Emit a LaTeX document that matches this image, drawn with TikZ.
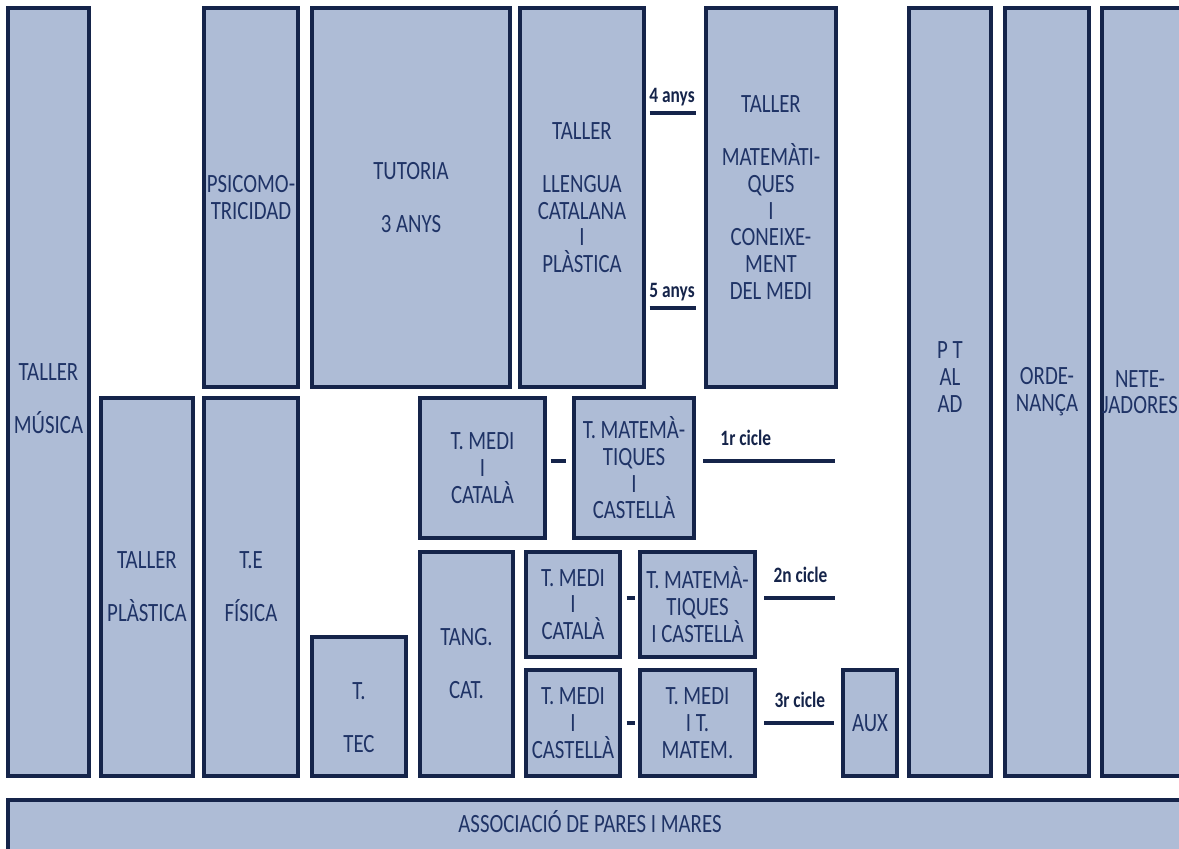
\documentclass[tikz,border=0pt]{standalone}
\usepackage{fontspec}
\setmainfont{Carlito}[FakeStretch=0.79]
\definecolor{roomfill}{HTML}{AEBCD6}
\definecolor{roomline}{HTML}{15244A}
\definecolor{ink}{HTML}{1F3366}

\tikzset{
  room/.style={draw=roomline, fill=roomfill, line width=1.8pt, text=ink,
    align=center, inner sep=0pt, font=\fontsize{15}{15.2}\selectfont},
  roomlabel/.style={text=ink, align=center, inner sep=0pt,
    font=\fontsize{15}{15.2}\selectfont},
  sz/.style 2 args={minimum width=#1*0.02cm, minimum height=#2*0.02cm},
  link/.style={draw=roomline, line width=2pt},
  tag/.style={text=roomline, inner sep=0pt, font=\bfseries\fontsize{12.5}{13}\selectfont}
}

\begin{document}
\begin{tikzpicture}[x=0.02cm, y=-0.02cm]
  \useasboundingbox (0,0) rectangle (1179,848);
  \clip (0,0) rectangle (1179,848);

  % Upper row
  \node[room, sz={81}{768}] (musica) at (48.5,392) {};
  \node[roomlabel] (musica-t) at (48.5,399) {TALLER\\[15pt]MÚSICA};
  \node[room, sz={94}{379}] (psico) at (251,197.5) {PSICOMO-\\TRICIDAD};
  \node[room, sz={198}{379}] (tutoria) at (411,197.5) {TUTORIA\\[15pt]3 ANYS};
  \node[room, sz={124}{379}] (llengua) at (582,197.5)
    {TALLER\\[15pt]LLENGUA\\CATALANA\\I\\PLÀSTICA};
  \node[room, sz={130}{379}] (matem) at (771,197.5)
    {TALLER\\[15pt]MATEMÀTI-\\QUES\\I\\CONEIXE-\\MENT\\DEL MEDI};

  % Lower row
  \node[room, sz={92}{378}] (plastica) at (147,587) {TALLER\\[15pt]PLÀSTICA};
  \node[room, sz={94}{378}] (fisica) at (251,587) {T.E\\[15pt]FÍSICA};
  \node[room, sz={94}{139}] (tec) at (359,706.5) {};
  \node[roomlabel] (tec-t) at (359,718) {T.\\[15pt]TEC};
  \node[room, sz={125}{140}] (medi1) at (482.5,468) {T.\,MEDI\\I\\CATALÀ};
  \node[room, sz={120}{140}] (tmat1) at (634,468) {T.\,MATEMÀ-\\TIQUES\\I\\CASTELLÀ};
  \node[room, sz={93}{224}] (tang) at (466.5,664) {TANG.\\[15pt]CAT.};
  \node[room, sz={94}{105}] (medi2) at (573,604.5) {T.\,MEDI\\I\\CATALÀ};
  \node[room, sz={115}{105}] (tmat2) at (697.5,604.5) {T.\,MATEMÀ-\\TIQUES\\I CASTELLÀ};
  \node[room, sz={94}{106}] (medi3) at (573,723) {T.\,MEDI\\I\\CASTELLÀ};
  \node[room, sz={115}{106}] (tmm3) at (697.5,723) {T.\,MEDI\\I T.\\MATEM.};
  \node[room, sz={54}{106}] (aux) at (870,723) {AUX};

  % Staff columns
  \node[room, sz={82}{768}] (ptalad) at (950,392) {};
  \node[roomlabel] (ptalad-t) at (950,377) {P T\\AL\\AD};
  \node[room, sz={84}{768}] (ordenanca) at (1047,392) {ORDE-\\NANÇA};
  \node[room, sz={83}{768}] (neteja) at (1143.5,392) {};
  \node[roomlabel] (neteja-t) at (1140,392) {NETE-\\JADORES};

  % Parents bar
  \node[room, sz={1187}{52}] (ampa) at (601.5,826) {};
  \node[roomlabel] (ampa-t) at (590,822) {ASSOCIACIÓ DE PARES I MARES};

  % Age and cycle lines
  \coordinate (anys4) at (0,113);
  \coordinate (anys5) at (0,308);
  \coordinate (cyc1) at (835,461);
  \coordinate (cyc2) at (835,598);
  \draw[link, shorten <=2.3pt, shorten >=5pt] (llengua.east |- anys4) -- (matem.west |- anys4)
    node[tag, pos=0.45, above=3pt] {4 anys};
  \draw[link, shorten <=2.3pt, shorten >=5pt] (llengua.east |- anys5) -- (matem.west |- anys5)
    node[tag, pos=0.45, above=3pt] {5 anys};
  \draw[link, shorten <=2.3pt, shorten >=3.4pt] (medi1.east |- cyc1) -- (tmat1.west |- cyc1);
  \draw[link, shorten <=4.5pt] (tmat1.east |- cyc1) -- (cyc1)
    node[tag, pos=0.36, above=8pt] {1r cicle};
  \draw[link, shorten <=2.8pt, shorten >=1.7pt] (medi2.east |- cyc2) -- (tmat2.west |- cyc2);
  \draw[link, shorten <=4.5pt] (tmat2.east |- cyc2) -- (cyc2)
    node[tag, pos=0.56, above=8pt] {2n cicle};
  \draw[link, shorten <=2.8pt, shorten >=1.7pt] (medi3) -- (tmm3);
  \draw[link, shorten <=4.5pt, shorten >=4.5pt] (tmm3) -- (aux)
    node[tag, pos=0.51, above=8pt] {3r cicle};
\end{tikzpicture}
\end{document}
